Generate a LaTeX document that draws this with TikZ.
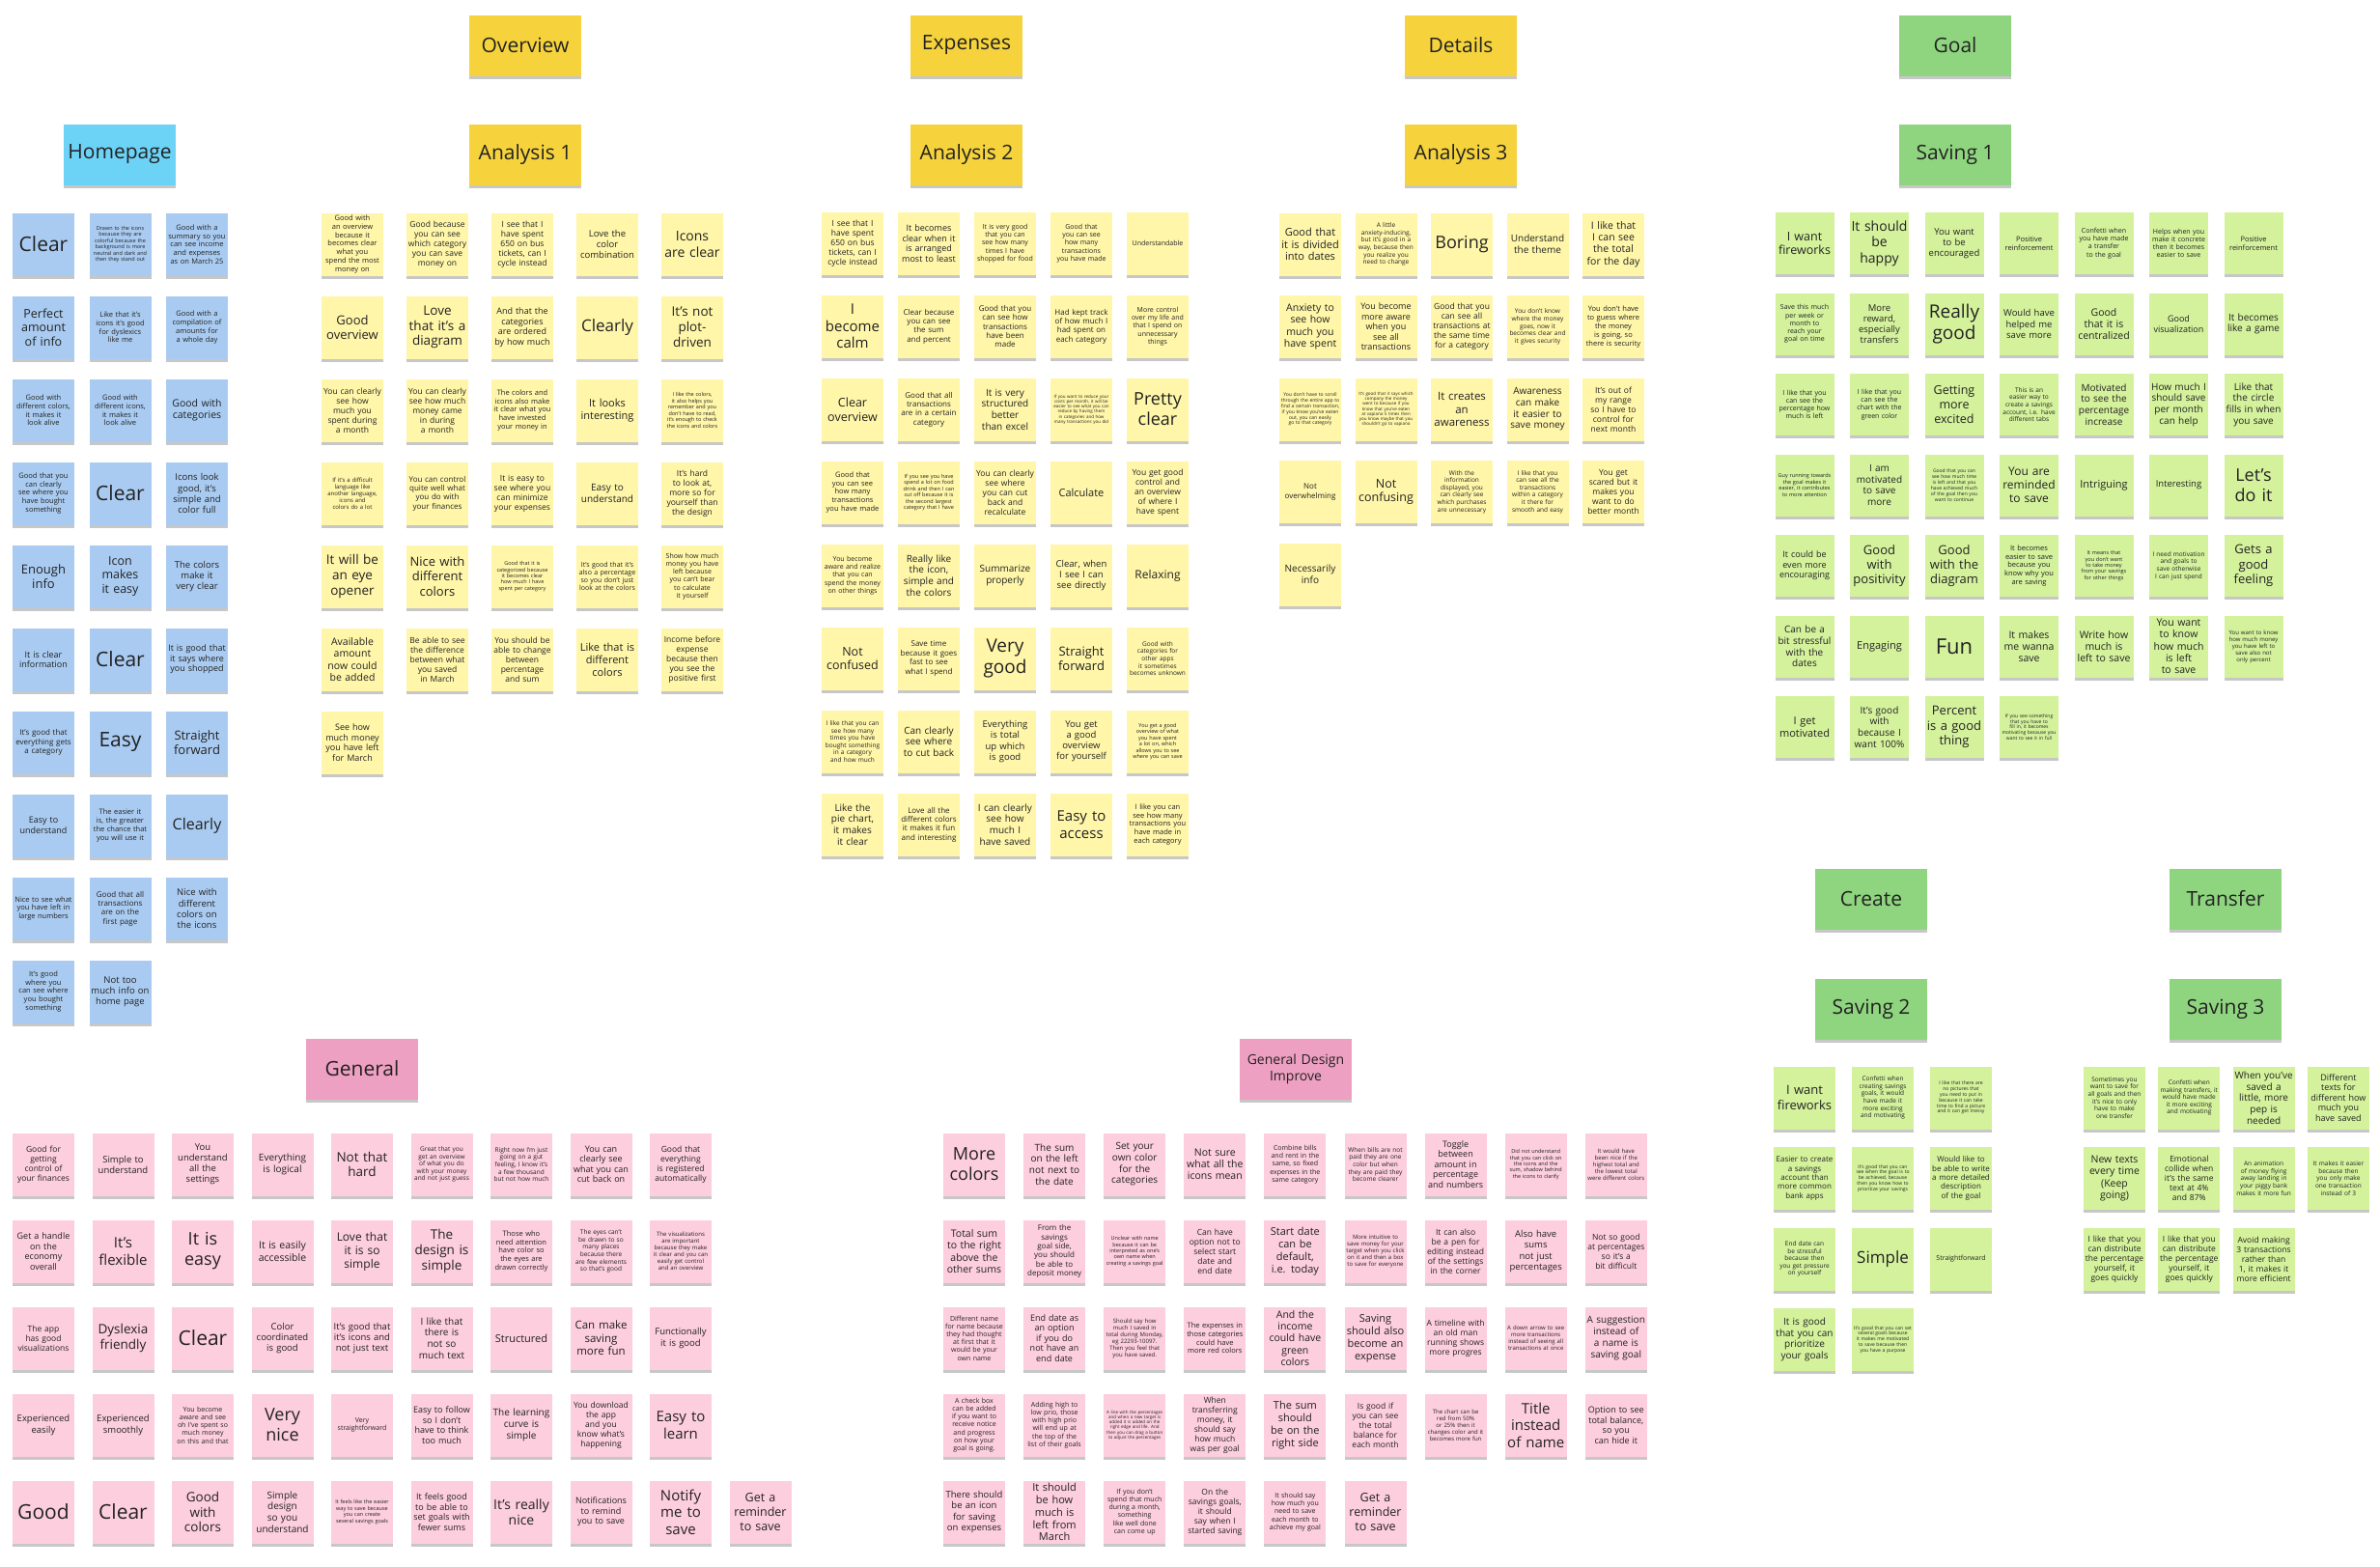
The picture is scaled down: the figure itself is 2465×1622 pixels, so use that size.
\documentclass[tikz,border=0pt]{standalone}
\usepackage{fontspec}
\setmainfont{Open Sans}
\usetikzlibrary{shadows}
\hyphenpenalty=10000
\exhyphenpenalty=10000
\definecolor{blueN}{HTML}{A9CBF1}
\definecolor{blueH}{HTML}{6CD3F7}
\definecolor{yellowN}{HTML}{FFF6A9}
\definecolor{yellowH}{HTML}{F6D33C}
\definecolor{greenN}{HTML}{D4F19C}
\definecolor{greenH}{HTML}{8FD57F}
\definecolor{pinkN}{HTML}{FDCEDD}
\definecolor{pinkH}{HTML}{EEA0C2}
\definecolor{inkC}{HTML}{222222}
\tikzset{
  stickbase/.style={rectangle, inner sep=0pt, align=center, text=inkC,
    drop shadow={shadow xshift=0pt, shadow yshift=-3pt, opacity=0.22, fill=black}},
  note/.style={stickbase, minimum width=64pt, minimum height=65pt, text width=60.5pt},
  bnote/.style={note, fill=blueN},
  ynote/.style={note, fill=yellowN},
  gnote/.style={note, fill=greenN},
  gnoteA/.style={stickbase, minimum width=61pt, minimum height=64pt, text width=58pt, fill=greenN},
  pnote/.style={note, fill=pinkN},
  head/.style={stickbase, minimum width=116pt, minimum height=63pt, font=\fontsize{21}{25}\selectfont},
  bhead/.style={head, fill=blueH},
  yhead/.style={head, fill=yellowH},
  ghead/.style={head, fill=greenH},
  phead/.style={head, fill=pinkH},
}
\newcommand\notegrid[8]{%
  \foreach \nsize/\ntext [count=\i from 0] in {#8} {%
    \pgfmathtruncatemacro\ngc{mod(\i,#7)}%
    \pgfmathtruncatemacro\ngr{floor(\i/#7)}%
    \pgfmathsetmacro\mybs{1.17*\nsize}%
    \node[#1, font=\fontsize{\nsize}{\mybs}\selectfont] (#2-\i) at ({#3+\ngc*#5},{#4+\ngr*#6}) {\ntext};
  }}
\begin{document}
\begin{tikzpicture}[x=1pt,y=-1pt]
\useasboundingbox (0,0) rectangle (2465,1622);
\fill[white] (0,0) rectangle (2465,1622);

% headers
\node[yhead] (h-ov) at (544,47) {Overview};
\node[yhead] (h-ex) at (1001,47) {Expenses};
\node[yhead] (h-de) at (1513,47) {Details};
\node[ghead] (h-go) at (2025,47) {Goal};
\node[bhead] (h-hp) at (124,160) {Homepage};
\node[yhead] (h-a1) at (544,160) {Analysis 1};
\node[yhead] (h-a2) at (1001,160) {Analysis 2};
\node[yhead] (h-a3) at (1513,160) {Analysis 3};
\node[ghead] (h-s1) at (2025,160) {Saving 1};
\node[ghead] (h-cr) at (1938,931) {Create};
\node[ghead] (h-tr) at (2305,931) {Transfer};
\node[ghead] (h-s2) at (1938,1045) {Saving 2};
\node[ghead] (h-s3) at (2305,1045) {Saving 3};
\node[phead] (h-ge) at (375,1107) {General};
\node[phead, font=\fontsize{14}{17}\selectfont, text width=110pt] (h-gd) at (1342,1107) {General Design\\Improve};

% Homepage
\notegrid{bnote}{hp}{45}{253}{79.5}{86}{3}{
21/Clear,
5.5/{Drawn to the icons because they are colorful because the background is more neutral and dark and then they stand out},
7.5/{Good with a summary so you can see income and expenses as on March 25},
12.5/{Perfect amount of info},
7.5/{Like that it's icons it's good for dyslexics like me},
7.5/{Good with a compilation of amounts for a whole day},
7.5/{Good with different colors, it makes it look alive},
7.5/{Good with different icons, it makes it look alive},
10.5/{Good with categories},
7.5/{Good that you can clearly see where you have bought something},
21/Clear,
9.5/{Icons look good, it's simple and color full},
13/{Enough info},
12.5/{Icon makes it easy},
9.5/{The colors make it very clear},
9/{It is clear information},
21/Clear,
9/{It is good that it says where you shopped},
8/{It's good that everything gets a category},
21/Easy,
13/{Straight forward},
9/{Easy to understand},
7.5/{The easier it is, the greater the chance that you will use it},
16/Clearly,
7.5/{Nice to see what you have left in large numbers},
8/{Good that all transactions are on the first page},
9.5/{Nice with different colors on the icons},
7.5/{It's good where you can see where you bought something},
9.5/{Not too much info on home page}}

% Analysis 1
\notegrid{ynote}{aa}{365}{253}{88}{86}{5}{
7.5/{Good with an overview because it becomes clear what you spend the most money on},
8.5/{Good because you can see which category you can save money on},
8.5/{I see that I have spent 650 on bus tickets, can I cycle instead},
9.5/{Love the color combination},
14/{Icons are clear},
13/{Good overview},
13.5/{Love that it's a diagram},
9/{And that the categories are ordered by how much},
17/Clearly,
13.5/{It's not\\plot-\\driven},
8.5/{You can clearly see how much you spent during a month},
8.5/{You can clearly see how much money came in during a month},
7.5/{The colors and icons also make it clear what you have invested your money in},
11/{It looks interesting},
5.5/{I like the colors, it also helps you remember and you don't have to read, it's enough to check the icons and colors},
6/{If it's a difficult language like another language, icons and colors do a lot},
8/{You can control quite well what you do with your finances},
8.5/{It is easy to see where you can minimize your expenses},
10/{Easy to understand},
8.5/{It's hard to look at, more so for yourself than the design},
13.5/{It will be an eye opener},
13/{Nice with different colors},
5.5/{Good that it is categorized because it becomes clear how much I have spent per category},
7/{It's good that it's also a percentage so you don't just look at the colors},
7/{Show how much money you have left because you can't bear to calculate it yourself},
10.5/{Available amount now could be added},
8.5/{Be able to see the difference between what you saved in March},
8.5/{You should be able to change between percentage and sum},
11/{Like that is different colors},
8.5/{Income before expense because then you see the positive first},
9/{See how much money you have left for March}}

% Analysis 2
\notegrid{ynote}{ab}{883}{252}{79}{86}{5}{
8.5/{I see that I have spent 650 on bus tickets, can I cycle instead},
9/{It becomes clear when it is arranged most to least},
7/{It is very good that you can see how many times I have shopped for food},
7/{Good that you can see how many transactions you have made},
7/{Understandable},
15/{I become calm},
8/{Clear because you can see the sum and percent},
8/{Good that you can see how transactions have been made},
8/{Had kept track of how much I had spent on each category},
7/{More control over my life and that I spend on unnecessary things},
12.5/{Clear overview},
8/{Good that all transactions are in a certain category},
10/{It is very structured better than excel},
4.5/{If you want to reduce your costs per month, it will be easier to see what you can reduce by having them in categories and how many transactions you did},
18/{Pretty clear},
7.5/{Good that you can see how many transactions you have made},
5.5/{If you see you have spend a lot on food drink and then I can cut off because it is the second largest category that I have},
8.5/{You can clearly see where you can cut back and recalculate},
11/{Calculate},
8.5/{You get good control and an overview of where I have spent},
7/{You become aware and realize that you can spend the money on other things},
10/{Really like the icon, simple and the colors},
10/{Summarize properly},
9.5/{Clear, when I see I can see directly},
12/{Relaxing},
12.5/{Not confused},
8/{Save time because it goes fast to see what I spend},
19/{Very good},
13/{Straight forward},
6.5/{Good with categories for other apps it sometimes becomes unknown},
6.5/{I like that you can see how many times you have bought something in a category and how much},
10/{Can clearly see where to cut back},
9.5/{Everything is total up which is good},
9.5/{You get a good overview for yourself},
5.5/{You get a good overview of what you have spent a lot on, which allows you to see where you can save},
10/{Like the pie chart, it makes it clear},
8/{Love all the different colors it makes it fun and interesting},
10/{I can clearly see how much I have saved},
15/{Easy to access},
7.5/{I like you can see how many transactions you have made in each category}}

% Analysis 3
\notegrid{ynote}{ac}{1357}{253}{78.5}{85.5}{5}{
11/{Good that it is divided into dates},
6.5/{A little anxiety-inducing, but it's good in a way, because then you realize you need to change},
18/Boring,
10/{Understand the theme},
10.5/{I like that I can see the total for the day},
10.5/{Anxiety to see how much you have spent},
9/{You become more aware when you see all transactions},
8.5/{Good that you can see all transactions at the same time for a category},
6.5/{You don't know where the money goes, now it becomes clear and it gives security},
7.5/{You don't have to guess where the money is going, so there is security},
5/{You don't have to scroll through the entire app to find a certain transaction, if you know you've eaten out, you can easily go to that category},
4.5/{It's good that it says which company the money went to because if you know that you've eaten at vapiano 5 times then you know maybe that you shouldn't go to vapiano},
11.5/{It creates an awareness},
10/{Awareness can make it easier to save money},
8.5/{It's out of my range so I have to control for next month},
8/{Not overwhelming},
12.5/{Not confusing},
6.5/{With the information displayed, you can clearly see which purchases are unnecessary},
6.5/{I like that you can see all the transactions within a category it there for smooth and easy},
8.5/{You get scared but it makes you want to do better month},
10/{Necessarily info}}

% Saving 1
\notegrid{gnoteA}{sa}{1869}{252}{77.5}{83.5}{7}{
12.5/{I want fireworks},
14/{It should be happy},
9.5/{You want to be encouraged},
7.5/{Positive reinforcement},
7/{Confetti when you have made a transfer to the goal},
7/{Helps when you make it concrete then it becomes easier to save},
7.5/{Positive reinforcement},
7/{Save this much per week or month to reach your goal on time},
9.5/{More reward, especially transfers},
19/{Really good},
9.5/{Would have helped me save more},
10.5/{Good that it is centralized},
9/{Good visualization},
10/{It becomes like a game},
7/{I like that you can see the percentage how much is left},
7/{I like that you can see the chart with the green color},
12.5/{Getting more excited},
6.5/{This is an easier way to create a savings account, i.e. have different tabs},
10/{Motivated to see the percentage increase},
10/{How much I should save per month can help},
10/{Like that the circle fills in when you save},
5.5/{Guy running towards the goal makes it easier, it contributes to more attention},
10/{I am motivated to save more},
5/{Good that you can see how much time is left and that you have achieved much of the goal then you want to continue},
12/{You are reminded to save},
11/{Intriguing},
9.5/{Interesting},
18/{Let's do it},
9/{It could be even more encouraging},
13/{Good with positivity},
13/{Good with the diagram},
7.5/{It becomes easier to save because you know why you are saving},
5.5/{It means that you don't want to take money from your savings for other things},
6.5/{I need motivation and goals to save otherwise I can just spend},
13/{Gets a good feeling},
10/{Can be a bit stressful with the dates},
11/{Engaging},
22/Fun,
10.5/{It makes me wanna save},
10.5/{Write how much is left to save},
10.5/{You want to know how much is left to save},
6/{You want to know how much money you have left to save also not only percent},
11/{I get motivated},
10/{It's good with because I want 100\%},
13/{Percent is a good thing},
5/{If you see something that you have to fill in, it becomes motivating because you want to see it in full}}

% Saving 2
\notegrid{gnote}{sb}{1869}{1137}{81}{83.5}{3}{
13/{I want fireworks},
6.5/{Confetti when creating savings goals, it would have made it more exciting and motivating},
5/{I like that there are no pictures that you need to put in because it can take time to find a picture and it can get messy},
8/{Easier to create a savings account than more common bank apps},
5/{It's good that you can see when the goal is to be achieved, because then you know how to prioritize your savings},
8/{Would like to be able to write a more detailed description of the goal},
6.5/{End date can be stressful because then you get pressure on yourself},
17/{Simple},
7/{Straightforward},
10/{It is good that you can prioritize your goals},
5/{It's good that you can set several goals because it makes me motivated to save because then you have a purpose}}

% Saving 3
\notegrid{gnote}{sc}{2190}{1137}{77.3}{83.5}{4}{
6.5/{Sometimes you want to save for all goals and then it's nice to only have to make one transfer},
6.5/{Confetti when making transfers, it would have made it more exciting and motivating},
10/{When you've saved a little, more pep is needed},
9/{Different texts for different how much you have saved},
10.5/{New texts every time (Keep going)},
8.5/{Emotional collide when it's the same text at 4\% and 87\%},
6.5/{An animation of money flying away landing in your piggy bank makes it more fun},
6.5/{It makes it easier because then you only make one transaction instead of 3},
8.5/{I like that you can distribute the percentage yourself, it goes quickly},
8.5/{I like that you can distribute the percentage yourself, it goes quickly},
8.5/{Avoid making 3 transactions rather than 1, it makes it more efficient}}

% General
\notegrid{pnote}{ga}{45}{1206}{82.5}{90}{9}{
8.5/{Good for getting control of your finances},
9.5/{Simple to understand},
9.5/{You understand all the settings},
10/{Everything is logical},
13.5/{Not that hard},
6.5/{Great that you get an overview of what you do with your money and not just guess},
6.5/{Right now I'm just going on a gut feeling, I know it's a few thousand but not how much},
9/{You can clearly see what you can cut back on},
8.5/{Good that everything is registered automatically},
9/{Get a handle on the economy overall},
15/{It's flexible},
18/{It is easy},
10.5/{It is easily accessible},
12/{Love that it is so simple},
13.5/{The design is simple},
7.5/{Those who need attention have color so the eyes are drawn correctly},
6.5/{The eyes can't be drawn to so many places because there are few elements so that's good},
6/{The visualizations are important because they make it clear and you can easily get control and an overview},
8.5/{The app has good visualizations},
13.5/{Dyslexia friendly},
21/Clear,
9.5/{Color coordinated is good},
9.5/{It's good that it's icons and not just text},
10/{I like that there is not so much text},
11/{Structured},
11.5/{Can make saving more fun},
9.5/{Functionally it is good},
9.5/{Experienced easily},
9.5/{Experienced smoothly},
7/{You become aware and see oh I've spent so much money on this and that},
18/{Very nice},
7/{Very straightforward},
9/{Easy to follow so I don't have to think too much},
10/{The learning curve is simple},
8.5/{You download the app and you know what's happening},
15/{Easy to learn}}
\notegrid{pnote}{gb}{45}{1566}{82.5}{90}{10}{
21/Good,
21/Clear,
13.5/{Good with colors},
10/{Simple design so you understand},
5.5/{It feels like the easier way to save because you can create several savings goals},
9/{It feels good to be able to set goals with fewer sums},
14/{It's really nice},
9/{Notifications to remind you to save},
15/{Notify me to save},
12.5/{Get a reminder to save}}

% General Design Improve
\notegrid{pnote}{gd}{1009}{1206}{83.1}{90}{9}{
18/{More colors},
10/{The sum on the left not next to the date},
10/{Set your own color for the categories},
10.5/{Not sure what all the icons mean},
7/{Combine bills and rent in the same, so fixed expenses in the same category},
6.5/{When bills are not paid they are one color but when they are paid they become clearer},
9/{Toggle between amount in percentage and numbers},
5.5/{Did not understand that you can click on the icons and the sum, shadow behind the icons to clarify},
6/{It would have been nice if the highest total and the lowest total were different colors},
10.5/{Total sum to the right above the other sums},
8/{From the savings goal side, you should be able to deposit money},
5.5/{Unclear with name because it can be interpreted as one's own name when creating a savings goal},
8.5/{Can have option not to select start date and end date},
11/{Start date can be default, i.e. today},
6/{More intuitive to save money for your target when you click on it and then a box to save for everyone},
8.5/{It can also be a pen for editing instead of the settings in the corner},
9.5/{Also have sums not just percentages},
8.5/{Not so good at percentages so it's a bit difficult},
7/{Different name for name because they had thought at first that it would be your own name},
9/{End date as an option if you do not have an end date},
6/{Should say how much I saved in total during Monday, eg 22293-10097. Then you feel that you have saved.},
7.5/{The expenses in those categories could have more red colors},
10.5/{And the income could have green colors},
11/{Saving should also become an expense},
8.5/{A timeline with an old man running shows more progres},
6/{A down arrow to see more transactions instead of seeing all transactions at once},
10/{A suggestion instead of a name is saving goal},
7/{A check box can be added if you want to receive notice and progress on how your goal is going.},
7/{Adding high to low prio, those with high prio will end up at the top of the list of their goals},
4.5/{A line with the percentages and when a new target is added it is added on the right edge and life. And then you can drag a button to adjust the percentages},
8.5/{When transferring money, it should say how much was per goal},
11/{The sum should be on the right side},
8.5/{Is good if you can see the total balance for each month},
6/{The chart can be red from 50\% or 25\% then it changes color and it becomes more fun},
15/{Title instead of name},
9/{Option to see total balance, so you can hide it},
9.5/{There should be an icon for saving on expenses},
11/{It should be how much is left from March},
7/{If you don't spend that much during a month, something like well done can come up},
8.5/{On the savings goals, it should say when I started saving},
7/{It should say how much you need to save each month to achieve my goal},
12.5/{Get a reminder to save}}
\end{tikzpicture}
\end{document}
